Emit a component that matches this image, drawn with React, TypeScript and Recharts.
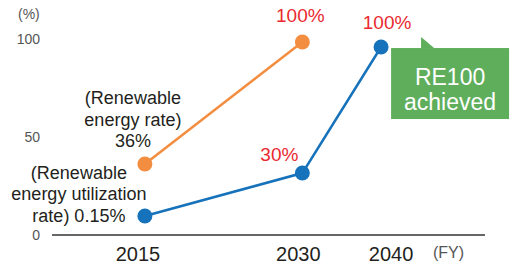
import { LabelList, Line, LineChart, XAxis, YAxis } from "recharts";

// Renewable energy targets (values placed as drawn in the source figure)
const years = ["2015", "2030", "2040"];
const slots = [0, 2, 3]; // position of each fiscal year on the horizontal axis
const renewableRate = [36.2, 98.5, null];
const utilizationRate = [9.7, 31.6, 95.9];
const renewableLabels = ["36%", "100%", ""];
const utilizationLabels = ["0.15%", "30%", "100%"];
const yTicks = [0, 50, 100];
const yearLabelShift = [-7, -4, 10]; // year labels sit slightly off the points in the source

const ORANGE = "#f38d3f";
const BLUE = "#1672ba";
const RED = "#ea2a30";
const GREEN = "#5fae5c";
const TEXT = "#231f20";
const GRAY = "#555555";
const FONT = "'Liberation Sans', Arial, Helvetica, sans-serif";

const data = years.map((y, i) => ({
  slot: slots[i],
  year: y,
  renewable: renewableRate[i],
  utilization: utilizationRate[i],
}));

function RedText({ x, y, text }: { x: number; y: number; text: string }) {
  return (
    <text x={x} y={y} textAnchor="middle" fill={RED} fontSize={19} fontFamily={FONT}>
      {text}
    </text>
  );
}

function Note({ x, y, lines }: { x: number; y: number; lines: string[] }) {
  return (
    <text x={x} y={y} textAnchor="middle" fill={TEXT} fontSize={18} fontFamily={FONT}>
      {lines.map((l, i) => (
        <tspan key={i} x={x} dy={i === 0 ? 0 : 21.5}>
          {l}
        </tspan>
      ))}
    </text>
  );
}

function YearTick(props: any) {
  const { x, y, payload } = props;
  const i = slots.indexOf(payload.value);
  return (
    <text
      x={x + (yearLabelShift[i] ?? 0)}
      y={y + 26}
      textAnchor="middle"
      fill={TEXT}
      fontSize={20}
      fontFamily={FONT}
    >
      {years[i]}
    </text>
  );
}

function renewableLabel(props: any) {
  const { x, y, index } = props;
  if (x == null || y == null) return null;
  if (index === 0) {
    return <Note x={x - 12} y={y - 60} lines={["(Renewable", "energy rate)", renewableLabels[0]]} />;
  }
  if (index === 1) return <RedText x={x - 2} y={y - 20} text={renewableLabels[1]} />;
  return null;
}

function utilizationLabel(props: any) {
  const { x, y, index } = props;
  if (x == null || y == null) return null;
  if (index === 0) {
    return (
      <Note
        x={x - 66}
        y={y - 37}
        lines={["(Renewable", "energy utilization", "rate) " + utilizationLabels[0]]}
      />
    );
  }
  if (index === 1) return <RedText x={x - 23} y={y - 12} text={utilizationLabels[1]} />;
  if (index === 2) {
    // RE100 callout box next to the 2040 point
    const bx = x + 10;
    const by = y + 1;
    return (
      <g>
        <RedText x={x + 6} y={y - 18} text={utilizationLabels[2]} />
        <path
          d={`M${bx + 30},${by - 11} L${bx + 30},${by} L${bx + 43},${by} Z`}
          fill={GREEN}
        />
        <rect x={bx} y={by} width={118} height={71} fill={GREEN} />
        <text x={bx + 59} y={by + 37} textAnchor="middle" fill="#fff" fontSize={23} fontFamily={FONT}>
          RE100
        </text>
        <text x={bx + 59} y={by + 62} textAnchor="middle" fill="#fff" fontSize={23} fontFamily={FONT}>
          achieved
        </text>
      </g>
    );
  }
  return null;
}

export default function App() {
  return (
    <div style={{ position: "absolute", left: 0, top: 0, width: 511, height: 266, background: "#fff" }}>
      <LineChart width={511} height={266} data={data} margin={{ top: 39, right: 26, bottom: 0, left: 0 }}>
        <XAxis
          dataKey="slot"
          type="number"
          domain={[-1.18, 4.32]}
          ticks={slots}
          height={31}
          axisLine={{ stroke: "#333", strokeWidth: 1.3 }}
          tickLine={false}
          tickSize={0}
          tickMargin={0}
          tick={<YearTick />}
          allowDataOverflow
        />
        <YAxis
          type="number"
          domain={[0, 100]}
          ticks={yTicks}
          width={52}
          axisLine={false}
          tickLine={false}
          tickSize={0}
          tickMargin={12}
          tick={{ fill: GRAY, fontSize: 14, fontFamily: "'Liberation Sans Narrow', " + FONT }}
        />
        <Line
          dataKey="renewable"
          stroke={ORANGE}
          strokeWidth={2.5}
          dot={{ r: 7.5, fill: ORANGE, stroke: "none" }}
          activeDot={false}
          isAnimationActive={false}
          connectNulls={false}
        >
          <LabelList dataKey="renewable" content={renewableLabel} />
        </Line>
        <Line
          dataKey="utilization"
          stroke={BLUE}
          strokeWidth={2.5}
          dot={{ r: 7.5, fill: BLUE, stroke: "none" }}
          activeDot={false}
          isAnimationActive={false}
        >
          <LabelList dataKey="utilization" content={utilizationLabel} />
        </Line>
      </LineChart>
      <div
        style={{
          position: "absolute",
          left: 18,
          top: 6,
          color: GRAY,
          fontSize: 14,
          fontFamily: "'Liberation Sans Narrow', " + FONT,
        }}
      >
        (%)
      </div>
      <div
        style={{
          position: "absolute",
          left: 433,
          top: 244,
          color: GRAY,
          fontSize: 16,
          fontFamily: "'Liberation Sans Narrow', " + FONT,
        }}
      >
        (FY)
      </div>
    </div>
  );
}
